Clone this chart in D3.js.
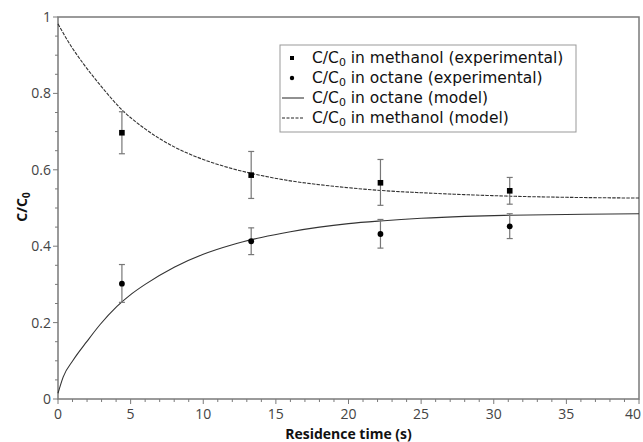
<!doctype html>
<html lang="en">
<head>
<meta charset="UTF-8">
<title>C/C0 vs residence time</title>
<script src="https://d3js.org/d3.v7.min.js"></script>
<style>
body { margin: 0; background: #fff; font-family: "Open Sans", sans-serif; }
svg { display: block; }
.frame { fill: none; stroke: #7a7a7a; stroke-width: 1.5; }
.tick-line { stroke: #7a7a7a; stroke-width: 1; }
.tick-label { font-size: 14px; fill: #444; }
.axis-title { font-size: 14px; font-weight: bold; fill: #111; }
.err { stroke: #777; stroke-width: 1.2; }
.legend-box { fill: #fff; stroke: #999; stroke-width: 1; }
.legend-text { font-family: "DejaVu Sans", sans-serif; font-size: 15.5px; fill: #111; }
</style>
</head>
<body>
<div id="plot"></div>
<script>

// experimental points
var expTime = [4.4, 13.3, 22.2, 31.1];
var methanolExp = [0.697, 0.586, 0.566, 0.545];
var methanolErrLow = [0.642, 0.525, 0.507, 0.510];
var methanolErrHigh = [0.752, 0.648, 0.627, 0.580];
var octaneExp = [0.302, 0.413, 0.432, 0.452];
var octaneErrLow = [0.253, 0.378, 0.395, 0.420];
var octaneErrHigh = [0.352, 0.448, 0.470, 0.485];

// model curves
var methanolModelTime = [0, 0.83, 1.74, 2.9, 4.4, 6, 8, 10, 12, 14, 16, 18, 20, 22.2, 25, 28, 31.1, 35, 40];
var methanolModel = [0.982, 0.928, 0.878, 0.822, 0.757, 0.707, 0.660, 0.627, 0.603, 0.585, 0.571, 0.561, 0.553, 0.546, 0.540, 0.535, 0.531, 0.528, 0.526];
var octaneModelTime = [0, 0.36, 1.05, 1.98, 2.9, 4.04, 4.96, 6, 8, 10, 12, 14, 16, 18, 20, 22.2, 25, 28, 31.1, 35, 40];
var octaneModel = [0.015, 0.058, 0.102, 0.150, 0.195, 0.242, 0.272, 0.300, 0.345, 0.379, 0.404, 0.423, 0.438, 0.450, 0.459, 0.466, 0.473, 0.478, 0.481, 0.483, 0.485];

var xTicks = [0, 5, 10, 15, 20, 25, 30, 35, 40];
var yTicks = [0, 0.2, 0.4, 0.6, 0.8, 1];

var width = 643;
var height = 442;
var plotLeft = 58, plotRight = 639, plotTop = 17, plotBottom = 399;

var svg = d3.select("#plot").append("svg")
	.attr("width", width)
	.attr("height", height);

var xScale = d3.scaleLinear().domain([0, 40]).range([plotLeft, plotRight]);
var yScale = d3.scaleLinear().domain([0, 1]).range([plotBottom, plotTop]);

// minor + major ticks
var xMinor = d3.range(0, 41, 1);
var yMinor = d3.range(0, 21, 1).map(function (d) { return d / 20; });

svg.selectAll(".xminor").data(xMinor).enter().append("line")
	.attr("class", "tick-line")
	.attr("x1", function (d) { return xScale(d); })
	.attr("x2", function (d) { return xScale(d); })
	.attr("y1", plotBottom)
	.attr("y2", function (d) { return plotBottom + (d % 5 === 0 ? 5 : 3); });

svg.selectAll(".yminor").data(yMinor).enter().append("line")
	.attr("class", "tick-line")
	.attr("y1", function (d) { return yScale(d); })
	.attr("y2", function (d) { return yScale(d); })
	.attr("x1", plotLeft)
	.attr("x2", function (d, i) { return plotLeft - (i % 4 === 0 ? 5 : 3); });

svg.selectAll(".xlabel").data(xTicks).enter().append("text")
	.attr("class", "tick-label")
	.attr("x", function (d) { return d === 40 ? xScale(d) - 6 : xScale(d); })
	.attr("y", 419)
	.attr("text-anchor", "middle")
	.text(function (d) { return d; });

svg.selectAll(".ylabel").data(yTicks).enter().append("text")
	.attr("class", "tick-label")
	.attr("x", plotLeft - 7)
	.attr("y", function (d) { return yScale(d) + 5; })
	.attr("text-anchor", "end")
	.text(function (d) { return d; });

svg.append("rect")
	.attr("class", "frame")
	.attr("x", plotLeft)
	.attr("y", plotTop)
	.attr("width", plotRight - plotLeft)
	.attr("height", plotBottom - plotTop);

// axis titles
svg.append("text")
	.attr("class", "axis-title")
	.attr("x", (plotLeft + plotRight) / 2)
	.attr("y", 439)
	.attr("text-anchor", "middle")
	.text("Residence time (s)");

var yTitle = svg.append("text")
	.attr("class", "axis-title")
	.attr("transform", "translate(27,207) rotate(-90)")
	.attr("text-anchor", "middle");
yTitle.append("tspan").text("C/C");
yTitle.append("tspan").attr("font-size", "10px").attr("dy", 3).text("0");

// model lines
var line = d3.line()
	.x(function (d) { return xScale(d[0]); })
	.y(function (d) { return yScale(d[1]); })
	.curve(d3.curveMonotoneX);

svg.append("path")
	.attr("d", line(d3.zip(octaneModelTime, octaneModel)))
	.style("fill", "none")
	.style("stroke", "#333")
	.style("stroke-width", 1.1);

svg.append("path")
	.attr("d", line(d3.zip(methanolModelTime, methanolModel)))
	.style("fill", "none")
	.style("stroke", "#333")
	.style("stroke-width", 1.1)
	.style("stroke-dasharray", "3.5,1.2");

// error bars
function errorBars(lo, hi) {
	var g = svg.append("g");
	expTime.forEach(function (t, i) {
		var x = xScale(t);
		g.append("line").attr("class", "err")
			.attr("x1", x).attr("x2", x)
			.attr("y1", yScale(lo[i])).attr("y2", yScale(hi[i]));
		[lo[i], hi[i]].forEach(function (v) {
			g.append("line").attr("class", "err")
				.attr("x1", x - 3).attr("x2", x + 3)
				.attr("y1", yScale(v)).attr("y2", yScale(v));
		});
	});
}
errorBars(methanolErrLow, methanolErrHigh);
errorBars(octaneErrLow, octaneErrHigh);

svg.selectAll(".sq").data(expTime).enter().append("rect")
	.attr("x", function (d) { return xScale(d) - 2.8; })
	.attr("y", function (d, i) { return yScale(methanolExp[i]) - 2.8; })
	.attr("width", 5.6)
	.attr("height", 5.6)
	.style("fill", "#000");

svg.selectAll(".dot").data(expTime).enter().append("circle")
	.attr("cx", function (d) { return xScale(d); })
	.attr("cy", function (d, i) { return yScale(octaneExp[i]); })
	.attr("r", 2.9)
	.style("fill", "#000");

// legend
var legend = svg.append("g");
legend.append("rect")
	.attr("class", "legend-box")
	.attr("x", 280).attr("y", 45)
	.attr("width", 296).attr("height", 87);

var legendItems = [
	{ kind: "square", text: " in methanol (experimental)" },
	{ kind: "circle", text: " in octane (experimental)" },
	{ kind: "solid", text: " in octane (model)" },
	{ kind: "dashed", text: " in methanol (model)" }
];

legendItems.forEach(function (item, i) {
	var y = 58 + i * 20;
	if (item.kind === "square") {
		legend.append("rect").attr("x", 290).attr("y", y - 2).attr("width", 4).attr("height", 4).style("fill", "#000");
	} else if (item.kind === "circle") {
		legend.append("circle").attr("cx", 292).attr("cy", y).attr("r", 2.2).style("fill", "#000");
	} else {
		legend.append("line")
			.attr("x1", 282).attr("x2", 304)
			.attr("y1", y).attr("y2", y)
			.style("stroke", "#222")
			.style("stroke-width", 1)
			.style("stroke-dasharray", item.kind === "dashed" ? "3,1.5" : null);
	}
	var t = legend.append("text")
		.attr("class", "legend-text")
		.attr("x", 312)
		.attr("y", y + 5);
	t.append("tspan").text("C/C");
	t.append("tspan").attr("font-size", "11px").attr("dy", 3).text("0");
	t.append("tspan").attr("dy", -3).text(item.text);
});

</script>
</body>
</html>
